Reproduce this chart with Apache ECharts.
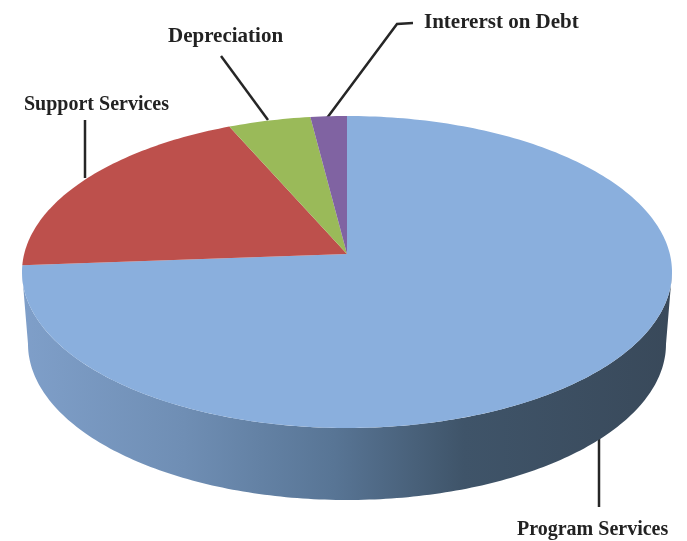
<!DOCTYPE html>
<html>
<head>
<meta charset="utf-8">
<style>
  html, body { margin: 0; padding: 0; background: #fff; }
  #main { width: 687px; height: 541px; }
</style>
<script src="https://cdn.jsdelivr.net/npm/echarts@6/dist/echarts.min.js"></script>
</head>
<body>
<div id="main"></div>
<script>
// shares, clockwise from 12 o'clock
const categories = ['Program Services', 'Support Services', 'Depreciation', 'Interest on Debt'];
const labels = ['Program Services', 'Support Services', 'Depreciation', 'Intererst on Debt'];
const shares = [75.7, 18.4, 4.1, 1.8];
const colors = ['#8aafdd', '#bd504c', '#9aba59', '#8063a2'];

const total = shares.reduce((a, b) => a + b, 0);
let running = 0;
const rows = shares.map((v) => {
  const row = [v, running];
  running += v;
  return row;
});

// tilted disc geometry
const cx = 347;
const cy = 272;
const rx = 325;
const ry = 156;
const apexY = 254;
const depth = 72;

function rim(deg, dy, shrink) {
  const a = (deg * Math.PI) / 180;
  return [cx + (rx - shrink) * Math.sin(a), cy + dy - ry * Math.cos(a)];
}

function arc(from, to, dy, shrink) {
  const pts = [];
  const n = Math.max(2, Math.ceil(Math.abs(to - from)));
  for (let i = 0; i <= n; i++) {
    pts.push(rim(from + ((to - from) * i) / n, dy, shrink));
  }
  return pts;
}

const wallFill = new echarts.graphic.LinearGradient(
  22, 0, 672, 0,
  [
    { offset: 0, color: '#7f9fc9' },
    { offset: 0.25, color: '#6f8eb4' },
    { offset: 0.48, color: '#587595' },
    { offset: 0.68, color: '#3f5469' },
    { offset: 1, color: '#39495a' }
  ],
  true
);

function renderSlice(params, api) {
  const start = (api.value(1) / total) * 360;
  const end = start + (api.value(0) / total) * 360;
  const children = [];
  // only the near half of the rim shows a wall
  const wallFrom = Math.max(start, 90);
  const wallTo = Math.min(end, 270);
  if (wallTo > wallFrom) {
    const top = arc(wallFrom, wallTo, 0, 0);
    const bottom = arc(wallTo, wallFrom, depth, 6);
    children.push({
      type: 'polygon',
      shape: { points: top.concat(bottom) },
      style: { fill: wallFill }
    });
  }
  children.push({
    type: 'polygon',
    shape: { points: [[cx, apexY]].concat(arc(start, end, 0, 0)) },
    style: { fill: colors[params.dataIndex] }
  });
  return { type: 'group', children: children };
}

function leader(points) {
  return {
    type: 'polyline',
    silent: true,
    shape: { points: points },
    style: { fill: null, stroke: '#262626', lineWidth: 2.5 }
  };
}

function caption(text, x, y, size) {
  return {
    type: 'text',
    silent: true,
    x: x,
    y: y,
    style: {
      text: text,
      fill: '#222',
      font: 'bold ' + size + 'px "Liberation Serif"',
      align: 'left',
      verticalAlign: 'middle'
    }
  };
}

const chart = echarts.init(document.getElementById('main'));
chart.setOption({
  animation: false,
  backgroundColor: '#fff',
  series: [
    {
      type: 'custom',
      name: 'Expenses',
      coordinateSystem: 'none',
      renderItem: renderSlice,
      data: rows.map((r, i) => ({ name: categories[i], value: r }))
    }
  ],
  graphic: [
    leader([[599, 438], [599, 507]]),
    leader([[85, 120], [85, 178]]),
    leader([[221, 56], [268, 120]]),
    leader([[327, 118], [397, 24], [413, 23]]),
    caption(labels[0], 517, 530, 20),
    caption(labels[1], 24, 105, 20),
    caption(labels[2], 168, 37, 21),
    caption(labels[3], 424, 23, 21)
  ]
});
</script>
</body>
</html>
